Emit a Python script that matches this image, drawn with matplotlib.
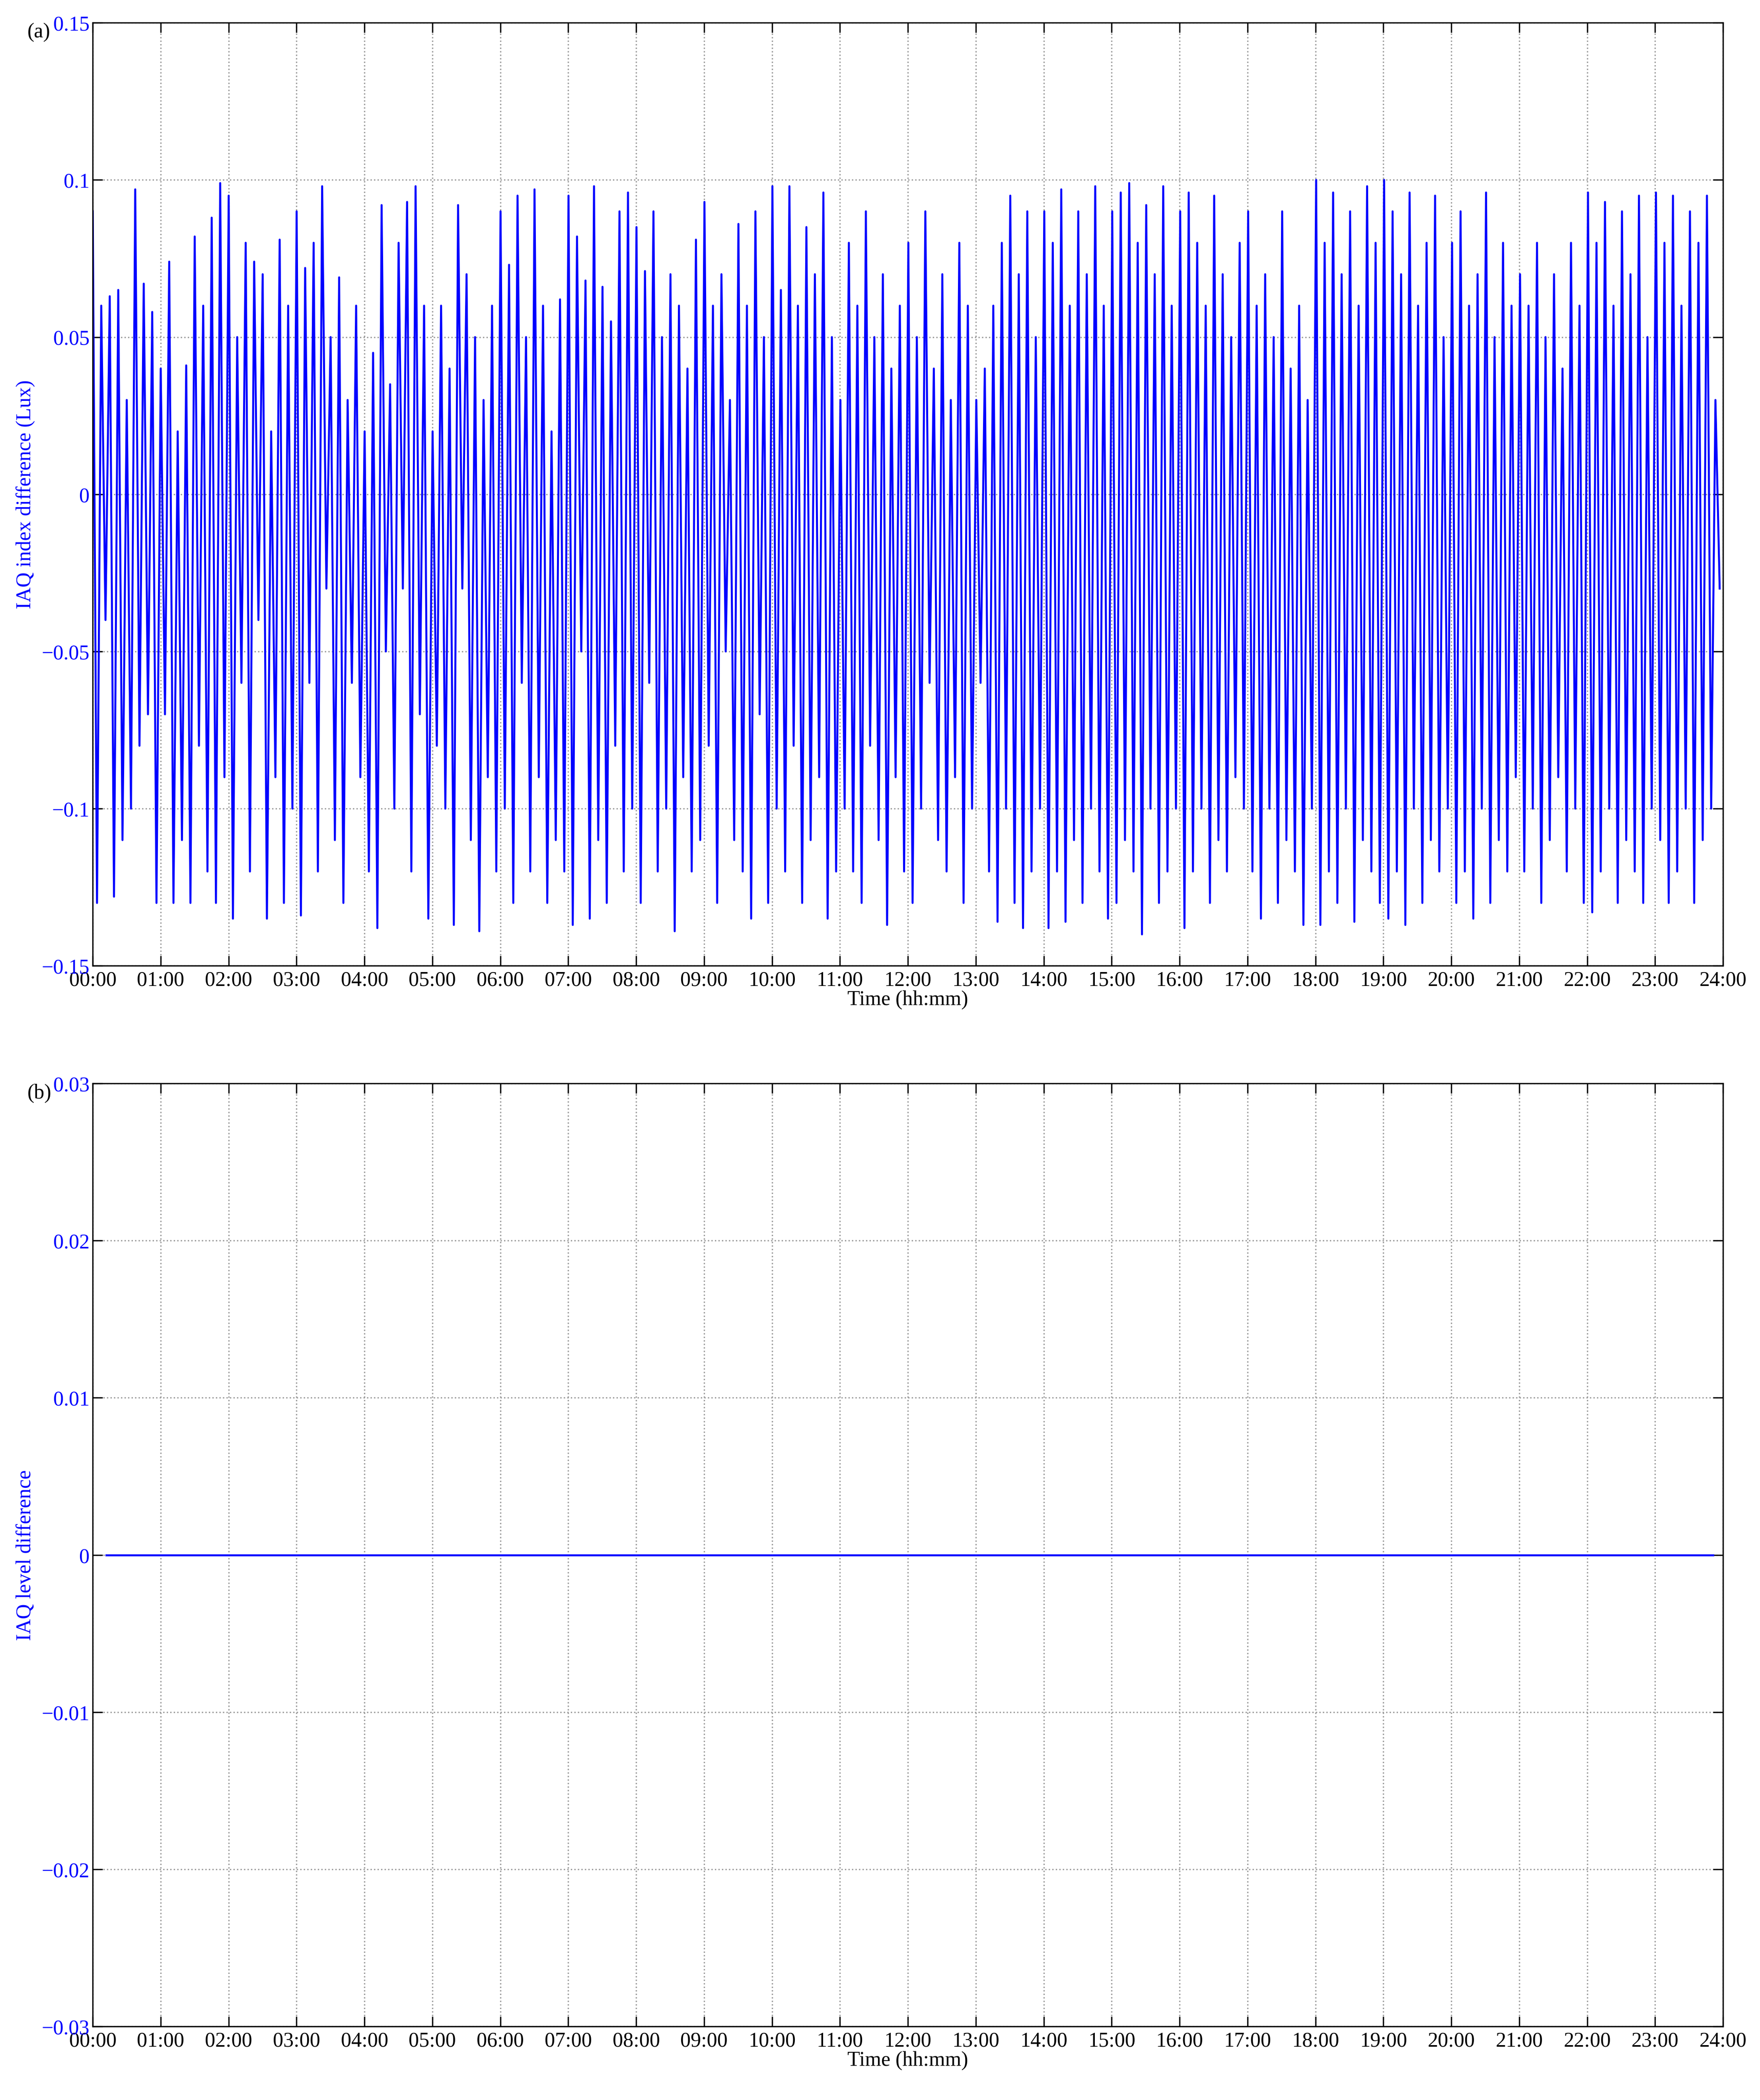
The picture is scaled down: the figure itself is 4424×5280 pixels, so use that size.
import numpy as np
import matplotlib.pyplot as plt
from matplotlib.ticker import FixedLocator, FuncFormatter

# --- data (one row per hour) ---
iaq_index_diff = [
    0.09, -0.13, 0.06, -0.04, 0.063, -0.128, 0.065, -0.11, 0.03, -0.1, 0.097, -0.08, 0.067, -0.07, 0.058, -0.13,
    0.04, -0.07, 0.074, -0.13, 0.02, -0.11, 0.041, -0.13, 0.082, -0.08, 0.06, -0.12, 0.088, -0.13, 0.099, -0.09,
    0.095, -0.135, 0.05, -0.06, 0.08, -0.12, 0.074, -0.04, 0.07, -0.135, 0.02, -0.09, 0.081, -0.13, 0.06, -0.1,
    0.09, -0.134, 0.072, -0.06, 0.08, -0.12, 0.098, -0.03, 0.05, -0.11, 0.069, -0.13, 0.03, -0.06, 0.06, -0.09,
    0.02, -0.12, 0.045, -0.138, 0.092, -0.05, 0.035, -0.1, 0.08, -0.03, 0.093, -0.12, 0.098, -0.07, 0.06, -0.135,
    0.02, -0.08, 0.06, -0.1, 0.04, -0.137, 0.092, -0.03, 0.07, -0.11, 0.05, -0.139, 0.03, -0.09, 0.06, -0.12,
    0.09, -0.1, 0.073, -0.13, 0.095, -0.06, 0.05, -0.12, 0.097, -0.09, 0.06, -0.13, 0.02, -0.11, 0.062, -0.12,
    0.095, -0.137, 0.082, -0.05, 0.068, -0.135, 0.098, -0.11, 0.066, -0.13, 0.055, -0.08, 0.09, -0.12, 0.096, -0.1,
    0.085, -0.13, 0.071, -0.06, 0.09, -0.12, 0.05, -0.1, 0.07, -0.139, 0.06, -0.09, 0.04, -0.12, 0.081, -0.11,
    0.093, -0.08, 0.06, -0.13, 0.07, -0.05, 0.03, -0.11, 0.086, -0.12, 0.06, -0.135, 0.09, -0.07, 0.05, -0.13,
    0.098, -0.1, 0.065, -0.12, 0.098, -0.08, 0.06, -0.13, 0.085, -0.11, 0.07, -0.09, 0.096, -0.135, 0.05, -0.12,
    0.03, -0.1, 0.08, -0.12, 0.06, -0.13, 0.09, -0.08, 0.05, -0.11, 0.07, -0.137, 0.04, -0.09, 0.06, -0.12,
    0.08, -0.13, 0.05, -0.1, 0.09, -0.06, 0.04, -0.11, 0.07, -0.12, 0.03, -0.09, 0.08, -0.13, 0.06, -0.1,
    0.03, -0.06, 0.04, -0.12, 0.06, -0.136, 0.08, -0.1, 0.095, -0.13, 0.07, -0.138, 0.09, -0.12, 0.05, -0.1,
    0.09, -0.138, 0.08, -0.12, 0.097, -0.136, 0.06, -0.11, 0.09, -0.13, 0.07, -0.1, 0.098, -0.12, 0.06, -0.135,
    0.09, -0.13, 0.096, -0.11, 0.099, -0.12, 0.08, -0.14, 0.092, -0.1, 0.07, -0.13, 0.098, -0.12, 0.06, -0.1,
    0.09, -0.138, 0.096, -0.12, 0.08, -0.1, 0.06, -0.13, 0.095, -0.11, 0.07, -0.12, 0.05, -0.09, 0.08, -0.1,
    0.09, -0.12, 0.06, -0.135, 0.07, -0.1, 0.05, -0.13, 0.09, -0.11, 0.04, -0.12, 0.06, -0.137, 0.03, -0.1,
    0.1, -0.137, 0.08, -0.12, 0.096, -0.13, 0.07, -0.1, 0.09, -0.136, 0.06, -0.11, 0.098, -0.12, 0.08, -0.13,
    0.1, -0.135, 0.09, -0.12, 0.07, -0.137, 0.096, -0.1, 0.06, -0.13, 0.08, -0.11, 0.095, -0.12, 0.05, -0.1,
    0.08, -0.13, 0.09, -0.12, 0.06, -0.135, 0.07, -0.1, 0.096, -0.13, 0.05, -0.11, 0.08, -0.12, 0.06, -0.09,
    0.07, -0.12, 0.06, -0.1, 0.08, -0.13, 0.05, -0.11, 0.07, -0.09, 0.04, -0.12, 0.08, -0.1, 0.06, -0.13,
    0.096, -0.133, 0.08, -0.12, 0.093, -0.1, 0.06, -0.13, 0.09, -0.11, 0.07, -0.12, 0.095, -0.13, 0.05, -0.1,
    0.096, -0.11, 0.08, -0.13, 0.095, -0.12, 0.06, -0.1, 0.09, -0.13, 0.08, -0.11, 0.095, -0.1, 0.03, -0.03,
]
iaq_level_diff = [0.0] * 25

hours_a = np.linspace(0, 23.95, len(iaq_index_diff))
hours_b = np.linspace(0.2, 23.85, len(iaq_level_diff))

plt.rcParams['font.family'] = ['Liberation Serif', 'DejaVu Serif']
plt.rcParams['font.size'] = 12.5

fig = plt.figure(figsize=(14.747, 17.603), dpi=300)
ax1 = fig.add_axes([0.0527, 0.540, 0.9263, 0.449])
ax2 = fig.add_axes([0.0527, 0.035, 0.9263, 0.449])

def hhmm(v, pos):
    return f"{int(round(v)):02d}:00"

def style(ax, yticks, ylabel, tag):
    ax.set_xlim(0, 24)
    ax.set_ylim(yticks[0], yticks[-1])
    ax.xaxis.set_major_locator(FixedLocator(range(25)))
    ax.xaxis.set_major_formatter(FuncFormatter(hhmm))
    ax.yaxis.set_major_locator(FixedLocator(yticks))
    ax.yaxis.set_major_formatter(FuncFormatter(lambda v, p: "0" if abs(v) < 1e-12 else f"{v:g}".replace("-", "\u2212")))
    ax.tick_params(direction="in", top=True, right=True, length=6, width=0.8, pad=3)
    ax.tick_params(axis="y", labelcolor="blue", pad=2)
    ax.grid(True, color="#999999", linestyle=":", linewidth=0.8)
    ax.set_xlabel("Time (hh:mm)", labelpad=0)
    ax.set_ylabel(ylabel, color="blue", labelpad=4)
    for s in ax.spines.values():
        s.set_linewidth(0.8)
    ax.text(-0.04, 1.0, tag, transform=ax.transAxes, ha="left", va="top")

ax1.plot(hours_a, iaq_index_diff, color="blue", linewidth=1.2)
style(ax1, [-0.15, -0.1, -0.05, 0, 0.05, 0.1, 0.15], "IAQ index difference (Lux)", "(a)")

ax2.plot(hours_b, iaq_level_diff, color="blue", linewidth=1.2)
style(ax2, [-0.03, -0.02, -0.01, 0, 0.01, 0.02, 0.03], "IAQ level difference", "(b)")

fig.savefig("out.png", dpi=300)
